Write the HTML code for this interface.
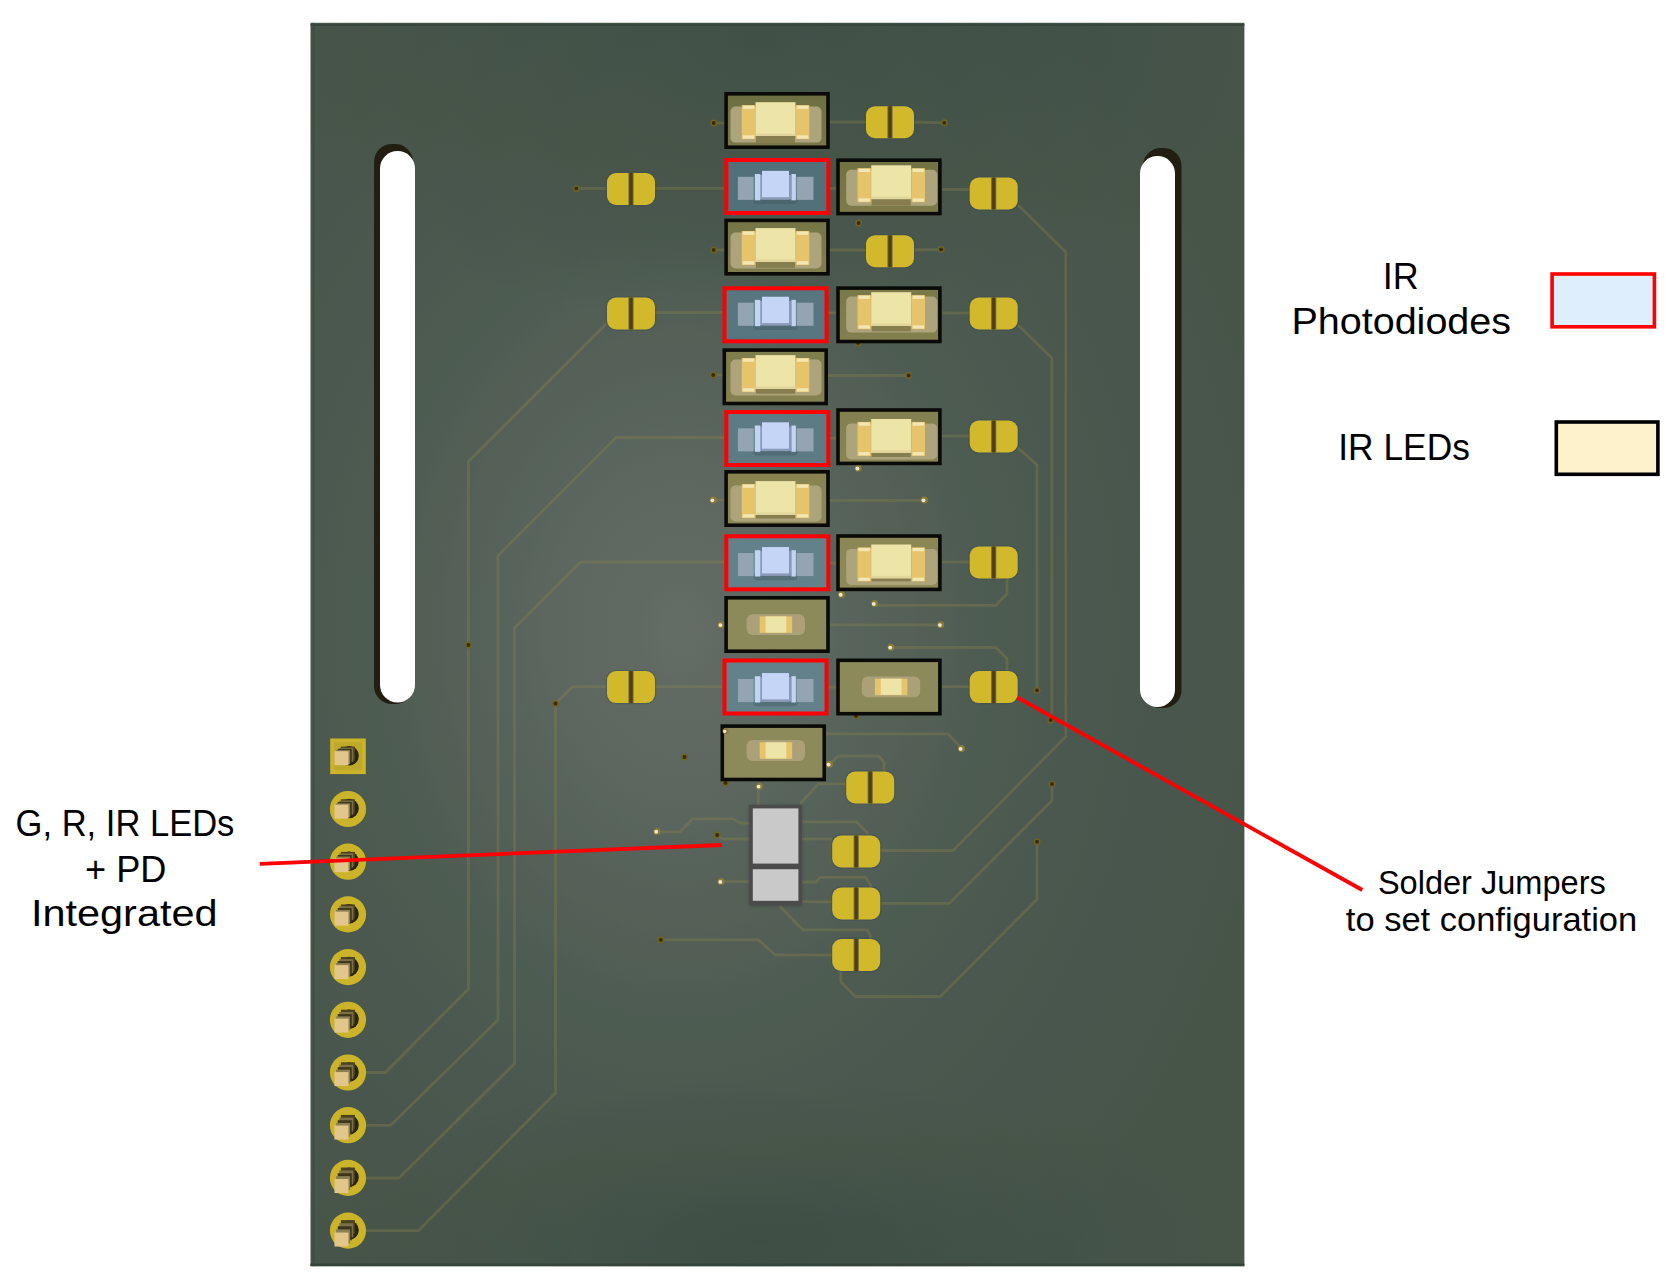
<!DOCTYPE html>
<html><head><meta charset="utf-8"><title>PCB</title>
<style>html,body{margin:0;padding:0;background:#fff;width:1680px;height:1286px;overflow:hidden;font-family:"Liberation Sans",sans-serif}</style>
</head><body>
<svg width="1680" height="1286" viewBox="0 0 1680 1286" style="position:absolute;left:0;top:0">
<defs>
<radialGradient id="board" gradientUnits="userSpaceOnUse" cx="680" cy="630" r="620" gradientTransform="translate(680 630) scale(1 1.28) translate(-680 -630)">
<stop offset="0" stop-color="#646d66"/>
<stop offset="0.2" stop-color="#5c675f"/>
<stop offset="0.5" stop-color="#4e5b51"/>
<stop offset="1" stop-color="#46544a"/>
</radialGradient>
<radialGradient id="topdark" gradientUnits="userSpaceOnUse" cx="760" cy="40" r="520" gradientTransform="translate(760 40) scale(1 0.55) translate(-760 -40)">
<stop offset="0" stop-color="#2f4236" stop-opacity="0.32"/>
<stop offset="0.5" stop-color="#2f4236" stop-opacity="0.2"/>
<stop offset="1" stop-color="#2f4236" stop-opacity="0"/>
</radialGradient>
<radialGradient id="botdark" gradientUnits="userSpaceOnUse" cx="760" cy="1240" r="460" gradientTransform="translate(760 1240) scale(1 0.35) translate(-760 -1240)">
<stop offset="0" stop-color="#2f4236" stop-opacity="0.4"/>
<stop offset="1" stop-color="#2f4236" stop-opacity="0"/>
</radialGradient>
<linearGradient id="olive" x1="0" y1="0" x2="0" y2="1">
<stop offset="0" stop-color="#6c6f3f"/><stop offset="1" stop-color="#7b7848"/>
</linearGradient>
<filter id="blur2" x="-20%" y="-20%" width="140%" height="140%"><feGaussianBlur stdDeviation="1.5"/></filter>
<filter id="edgeblur" x="-2%" y="-2%" width="104%" height="104%"><feGaussianBlur stdDeviation="0.7"/></filter>
</defs>
<rect width="1680" height="1286" fill="#ffffff"/>
<g filter="url(#edgeblur)">
<rect x="310.5" y="22.8" width="933.9" height="1243.4" fill="url(#board)"/>
<rect x="310.5" y="22.8" width="933.9" height="320" fill="url(#topdark)"/>
<rect x="310.5" y="1060" width="933.9" height="206.2" fill="url(#botdark)"/>
<rect x="310.5" y="24" width="933.9" height="2" fill="#34443a" opacity="0.8"/>
<rect x="310.5" y="1263.5" width="933.9" height="2.7" fill="#36443a"/>
<rect x="312.6" y="22.8" width="1.8" height="1243.4" fill="#3c4a40" opacity="0.7"/>
</g>
<rect x="374" y="144" width="39" height="560" rx="18" fill="#221e12"/>
<rect x="380" y="151" width="35" height="551.5" rx="17.5" fill="#ffffff"/>
<rect x="1143" y="148" width="38.5" height="560" rx="18" fill="#221e12"/>
<rect x="1140" y="156" width="35" height="551" rx="17.5" fill="#ffffff"/>
<g fill="none" stroke="#8e8549" stroke-opacity="0.33" stroke-width="2.8" stroke-linejoin="round"><path d="M606.5,323.4 L468.4,461.5 L468.4,988.9 L385.4,1072.5 L366,1072.5"/><path d="M724,437.5 L616.2,437.5 L498,555.7 L498,1020 L390.7,1125.3 L366,1125.3"/><path d="M724,562 L580.4,562 L514.5,628 L514.5,1063.5 L399,1178 L366,1178"/><path d="M606.5,686.6 L572.6,686.6 L555.5,703.5 L555.5,1093 L418.6,1230.6 L366,1230.6"/><path d="M576.3,188.4 L606.5,188.4"/><path d="M654.7,188.4 L724,188.4"/><path d="M654.7,312.5 L724,312.5"/><path d="M654.7,686.6 L722,686.6"/><path d="M713.5,123 L725,123"/><path d="M713.5,250 L725,250"/><path d="M713.5,375 L725,375"/><path d="M713.5,500 L725,500"/><path d="M829,122 L866,122"/><path d="M914,122 L944,122.8"/><path d="M829,250 L866,250"/><path d="M914,250 L941,249.3"/><path d="M828,375.5 L908.7,375.5"/><path d="M829,500.4 L924.3,500.4"/><path d="M829,624.8 L940.7,624.8"/><path d="M942,189.5 L970,189.5"/><path d="M942,313 L970,313"/><path d="M942,436 L970,436"/><path d="M942,562 L970,562"/><path d="M942,686.6 L970,686.6"/><path d="M828,188.4 L837,188.4"/><path d="M828,313 L837,313"/><path d="M828,438.3 L837,438.3"/><path d="M828,563.2 L837,563.2"/><path d="M828,687 L837,687"/><path d="M1018,205 L1065.8,252 L1065.8,736.5 L953.2,850.5 L880,850.5"/><path d="M1018,325 L1051.9,358 L1051.9,720"/><path d="M1018,448 L1036.9,464.6 L1036.9,690"/><path d="M1007,578 L1007,594 L995.8,605.3 L875,605.3"/><path d="M891,647.5 L995.8,647.5 L1007,658.8 L1007,671"/><path d="M1052,784 L1052,800.6 L949.3,903.3 L880,903.3"/><path d="M1037,841.7 L1037,899.5 L940.4,996.5 L855.2,996.5 L840.8,981.7 L840.8,969"/><path d="M826,733.9 L948,733.9 L962,748.6"/><path d="M657.5,831.9 L679.8,831.9 L692.9,818.8 L733.5,818.8 L740,823.2 L750,823.2"/><path d="M717.2,835 L722,839 L750,839"/><path d="M721.1,881.6 L750,881.6"/><path d="M801.6,821.9 L856.6,821.9 L867,832.4 L867,836"/><path d="M801.6,839 L832,839"/><path d="M801.6,882 L816,882 L820,877.4 L865.7,877.4 L870.4,884.8 L870.4,888"/><path d="M801.6,901.8 L832,901.8"/><path d="M779.3,905.7 L802.9,929.8 L867,929.8 L870.4,935.8 L870.4,939"/><path d="M660.9,939.8 L758.3,939.8 L775.4,955 L832,955"/><path d="M846,783.9 L818.6,783.9 L800.2,803.6"/><path d="M758.3,786.5 L758.3,805"/><path d="M829.6,765 L838,756 L879,756 L884,762.7 L884,771"/></g>
<circle cx="725.5" cy="782.9" r="3.5" fill="#6f6224"/><circle cx="725.5" cy="782.9" r="1.9250000000000003" fill="#362d0c"/><circle cx="824.3" cy="188.4" r="3.5" fill="#6f6224"/><circle cx="824.3" cy="188.4" r="1.9250000000000003" fill="#362d0c"/><circle cx="824.3" cy="313" r="3.5" fill="#6f6224"/><circle cx="824.3" cy="313" r="1.9250000000000003" fill="#362d0c"/><circle cx="713.7" cy="123" r="3.5" fill="#6f6224"/><circle cx="713.7" cy="123" r="1.9250000000000003" fill="#362d0c"/><circle cx="944.3" cy="122.8" r="3.5" fill="#6f6224"/><circle cx="944.3" cy="122.8" r="1.9250000000000003" fill="#362d0c"/><circle cx="576.3" cy="188.4" r="3.5" fill="#6f6224"/><circle cx="576.3" cy="188.4" r="1.9250000000000003" fill="#362d0c"/><circle cx="858.6" cy="223" r="3.5" fill="#6f6224"/><circle cx="858.6" cy="223" r="1.9250000000000003" fill="#362d0c"/><circle cx="713.7" cy="250" r="3.5" fill="#6f6224"/><circle cx="713.7" cy="250" r="1.9250000000000003" fill="#362d0c"/><circle cx="941.1" cy="249.3" r="3.5" fill="#6f6224"/><circle cx="941.1" cy="249.3" r="1.9250000000000003" fill="#362d0c"/><circle cx="713.2" cy="375" r="3.5" fill="#6f6224"/><circle cx="713.2" cy="375" r="1.9250000000000003" fill="#362d0c"/><circle cx="908.7" cy="375.5" r="3.5" fill="#6f6224"/><circle cx="908.7" cy="375.5" r="1.9250000000000003" fill="#362d0c"/><circle cx="858" cy="342.9" r="3.5" fill="#6f6224"/><circle cx="858" cy="342.9" r="1.9250000000000003" fill="#362d0c"/><circle cx="468.4" cy="645" r="3.5" fill="#6f6224"/><circle cx="468.4" cy="645" r="1.9250000000000003" fill="#362d0c"/><circle cx="555.5" cy="703.5" r="3.5" fill="#6f6224"/><circle cx="555.5" cy="703.5" r="1.9250000000000003" fill="#362d0c"/><circle cx="684.5" cy="757" r="3.5" fill="#6f6224"/><circle cx="684.5" cy="757" r="1.9250000000000003" fill="#362d0c"/><circle cx="717.2" cy="835" r="3.5" fill="#6f6224"/><circle cx="717.2" cy="835" r="1.9250000000000003" fill="#362d0c"/><circle cx="1037" cy="690.3" r="3.5" fill="#6f6224"/><circle cx="1037" cy="690.3" r="1.9250000000000003" fill="#362d0c"/><circle cx="1050.7" cy="720" r="3.5" fill="#6f6224"/><circle cx="1050.7" cy="720" r="1.9250000000000003" fill="#362d0c"/><circle cx="1052" cy="784" r="3.5" fill="#6f6224"/><circle cx="1052" cy="784" r="1.9250000000000003" fill="#362d0c"/><circle cx="1037" cy="841.7" r="3.5" fill="#6f6224"/><circle cx="1037" cy="841.7" r="1.9250000000000003" fill="#362d0c"/><circle cx="660.9" cy="939.8" r="3.5" fill="#6f6224"/><circle cx="660.9" cy="939.8" r="1.9250000000000003" fill="#362d0c"/><circle cx="856" cy="716" r="3.5" fill="#6f6224"/><circle cx="856" cy="716" r="1.9250000000000003" fill="#362d0c"/><circle cx="657" cy="831.4" r="3.5" fill="#8a7b35"/><circle cx="656.2" cy="831.6999999999999" r="1.9250000000000003" fill="#ece8d8"/><circle cx="713.2" cy="500" r="3.5" fill="#8a7b35"/><circle cx="712.4000000000001" cy="500.3" r="1.9250000000000003" fill="#ece8d8"/><circle cx="924.3" cy="500" r="3.5" fill="#8a7b35"/><circle cx="923.5" cy="500.3" r="1.9250000000000003" fill="#ece8d8"/><circle cx="858.2" cy="468.2" r="3.5" fill="#8a7b35"/><circle cx="857.4000000000001" cy="468.5" r="1.9250000000000003" fill="#ece8d8"/><circle cx="841.5" cy="594.4" r="3.5" fill="#8a7b35"/><circle cx="840.7" cy="594.6999999999999" r="1.9250000000000003" fill="#ece8d8"/><circle cx="874.6" cy="603.6" r="3.5" fill="#8a7b35"/><circle cx="873.8000000000001" cy="603.9" r="1.9250000000000003" fill="#ece8d8"/><circle cx="721.2" cy="624.8" r="3.5" fill="#8a7b35"/><circle cx="720.4000000000001" cy="625.0999999999999" r="1.9250000000000003" fill="#ece8d8"/><circle cx="940.7" cy="624.8" r="3.5" fill="#8a7b35"/><circle cx="939.9000000000001" cy="625.0999999999999" r="1.9250000000000003" fill="#ece8d8"/><circle cx="891" cy="647.3" r="3.5" fill="#8a7b35"/><circle cx="890.2" cy="647.5999999999999" r="1.9250000000000003" fill="#ece8d8"/><circle cx="824.3" cy="438.3" r="3.5" fill="#8a7b35"/><circle cx="823.5" cy="438.6" r="1.9250000000000003" fill="#ece8d8"/><circle cx="824.3" cy="563.2" r="3.5" fill="#8a7b35"/><circle cx="823.5" cy="563.5" r="1.9250000000000003" fill="#ece8d8"/><circle cx="824.3" cy="687" r="3.5" fill="#8a7b35"/><circle cx="823.5" cy="687.3" r="1.9250000000000003" fill="#ece8d8"/><circle cx="961.4" cy="748.6" r="3.5" fill="#8a7b35"/><circle cx="960.6" cy="748.9" r="1.9250000000000003" fill="#ece8d8"/><circle cx="829.4" cy="764.3" r="3.5" fill="#8a7b35"/><circle cx="828.6" cy="764.5999999999999" r="1.9250000000000003" fill="#ece8d8"/><circle cx="759.4" cy="786.3" r="3.5" fill="#8a7b35"/><circle cx="758.6" cy="786.5999999999999" r="1.9250000000000003" fill="#ece8d8"/><circle cx="721.1" cy="881.6" r="3.5" fill="#8a7b35"/><circle cx="720.3000000000001" cy="881.9" r="1.9250000000000003" fill="#ece8d8"/>
<rect x="864.8" y="105.0" width="50.4" height="34.4" rx="10" fill="#3c4e56" opacity="0.45"/><rect x="866.0" y="106.2" width="48" height="32" rx="9" fill="#d1b92b"/><rect x="887.4" y="106.2" width="5.2" height="32" fill="#7a6a28"/><rect x="888.4" y="106.2" width="3.2" height="32" fill="#4a3f1e"/><rect x="605.8" y="171.8" width="50.4" height="34.4" rx="10" fill="#3c4e56" opacity="0.45"/><rect x="607.0" y="173.0" width="48" height="32" rx="9" fill="#d1b92b"/><rect x="628.4" y="173.0" width="5.2" height="32" fill="#7a6a28"/><rect x="629.4" y="173.0" width="3.2" height="32" fill="#4a3f1e"/><rect x="968.5" y="176.3" width="50.4" height="34.4" rx="10" fill="#3c4e56" opacity="0.45"/><rect x="969.7" y="177.5" width="48" height="32" rx="9" fill="#d1b92b"/><rect x="991.1" y="177.5" width="5.2" height="32" fill="#7a6a28"/><rect x="992.1" y="177.5" width="3.2" height="32" fill="#4a3f1e"/><rect x="864.8" y="234.0" width="50.4" height="34.4" rx="10" fill="#3c4e56" opacity="0.45"/><rect x="866.0" y="235.2" width="48" height="32" rx="9" fill="#d1b92b"/><rect x="887.4" y="235.2" width="5.2" height="32" fill="#7a6a28"/><rect x="888.4" y="235.2" width="3.2" height="32" fill="#4a3f1e"/><rect x="605.8" y="296.3" width="50.4" height="34.4" rx="10" fill="#3c4e56" opacity="0.45"/><rect x="607.0" y="297.5" width="48" height="32" rx="9" fill="#d1b92b"/><rect x="628.4" y="297.5" width="5.2" height="32" fill="#7a6a28"/><rect x="629.4" y="297.5" width="3.2" height="32" fill="#4a3f1e"/><rect x="968.5" y="296.3" width="50.4" height="34.4" rx="10" fill="#3c4e56" opacity="0.45"/><rect x="969.7" y="297.5" width="48" height="32" rx="9" fill="#d1b92b"/><rect x="991.1" y="297.5" width="5.2" height="32" fill="#7a6a28"/><rect x="992.1" y="297.5" width="3.2" height="32" fill="#4a3f1e"/><rect x="968.5" y="419.3" width="50.4" height="34.4" rx="10" fill="#3c4e56" opacity="0.45"/><rect x="969.7" y="420.5" width="48" height="32" rx="9" fill="#d1b92b"/><rect x="991.1" y="420.5" width="5.2" height="32" fill="#7a6a28"/><rect x="992.1" y="420.5" width="3.2" height="32" fill="#4a3f1e"/><rect x="968.5" y="545.3" width="50.4" height="34.4" rx="10" fill="#3c4e56" opacity="0.45"/><rect x="969.7" y="546.5" width="48" height="32" rx="9" fill="#d1b92b"/><rect x="991.1" y="546.5" width="5.2" height="32" fill="#7a6a28"/><rect x="992.1" y="546.5" width="3.2" height="32" fill="#4a3f1e"/><rect x="605.8" y="669.9" width="50.4" height="34.4" rx="10" fill="#3c4e56" opacity="0.45"/><rect x="607.0" y="671.1" width="48" height="32" rx="9" fill="#d1b92b"/><rect x="628.4" y="671.1" width="5.2" height="32" fill="#7a6a28"/><rect x="629.4" y="671.1" width="3.2" height="32" fill="#4a3f1e"/><rect x="968.5" y="669.9" width="50.4" height="34.4" rx="10" fill="#3c4e56" opacity="0.45"/><rect x="969.7" y="671.1" width="48" height="32" rx="9" fill="#d1b92b"/><rect x="991.1" y="671.1" width="5.2" height="32" fill="#7a6a28"/><rect x="992.1" y="671.1" width="3.2" height="32" fill="#4a3f1e"/><rect x="845.0" y="770.1999999999999" width="50.4" height="34.4" rx="10" fill="#3c4e56" opacity="0.45"/><rect x="846.2" y="771.4" width="48" height="32" rx="9" fill="#d1b92b"/><rect x="867.6" y="771.4" width="5.2" height="32" fill="#7a6a28"/><rect x="868.6" y="771.4" width="3.2" height="32" fill="#4a3f1e"/><rect x="831.0" y="834.3" width="50.4" height="34.4" rx="10" fill="#3c4e56" opacity="0.45"/><rect x="832.2" y="835.5" width="48" height="32" rx="9" fill="#d1b92b"/><rect x="853.6" y="835.5" width="5.2" height="32" fill="#7a6a28"/><rect x="854.6" y="835.5" width="3.2" height="32" fill="#4a3f1e"/><rect x="831.0" y="886.3" width="50.4" height="34.4" rx="10" fill="#3c4e56" opacity="0.45"/><rect x="832.2" y="887.5" width="48" height="32" rx="9" fill="#d1b92b"/><rect x="853.6" y="887.5" width="5.2" height="32" fill="#7a6a28"/><rect x="854.6" y="887.5" width="3.2" height="32" fill="#4a3f1e"/><rect x="831.0" y="937.8" width="50.4" height="34.4" rx="10" fill="#3c4e56" opacity="0.45"/><rect x="832.2" y="939.0" width="48" height="32" rx="9" fill="#d1b92b"/><rect x="853.6" y="939.0" width="5.2" height="32" fill="#7a6a28"/><rect x="854.6" y="939.0" width="3.2" height="32" fill="#4a3f1e"/>
<rect x="330.2" y="738.5" width="35.6" height="35.6" fill="#ccb42a"/><rect x="334" y="742.3" width="28" height="28" fill="#bfa92a"/><circle cx="349" cy="755.8" r="9.8" fill="#2a2410"/><rect x="340.9" y="746.6719999999999" width="14" height="14" fill="#4a4220"/><rect x="339.3" y="747.804" width="14" height="14" fill="#7a7048"/><rect x="337.7" y="748.9359999999999" width="14" height="14" fill="#3c3518"/><rect x="336.1" y="750.068" width="14" height="14" fill="#8a8056"/><rect x="334.5" y="751.1999999999999" width="14" height="14" fill="#e2c68a"/><circle cx="348" cy="809.0" r="18.1" fill="#ccb42a"/><circle cx="349" cy="808.5" r="9.8" fill="#2a2410"/><rect x="340.9" y="799.2783999999999" width="14" height="14" fill="#4a4220"/><rect x="339.3" y="800.6288" width="14" height="14" fill="#7a7048"/><rect x="337.7" y="801.9792" width="14" height="14" fill="#3c3518"/><rect x="336.1" y="803.3295999999999" width="14" height="14" fill="#8a8056"/><rect x="334.5" y="804.68" width="14" height="14" fill="#e2c68a"/><circle cx="348" cy="861.6999999999999" r="18.1" fill="#ccb42a"/><circle cx="349" cy="861.1999999999999" r="9.8" fill="#2a2410"/><rect x="340.9" y="851.8847999999999" width="14" height="14" fill="#4a4220"/><rect x="339.3" y="853.4535999999999" width="14" height="14" fill="#7a7048"/><rect x="337.7" y="855.0224" width="14" height="14" fill="#3c3518"/><rect x="336.1" y="856.5912" width="14" height="14" fill="#8a8056"/><rect x="334.5" y="858.16" width="14" height="14" fill="#e2c68a"/><circle cx="348" cy="914.4" r="18.1" fill="#ccb42a"/><circle cx="349" cy="913.9" r="9.8" fill="#2a2410"/><rect x="340.9" y="904.4911999999999" width="14" height="14" fill="#4a4220"/><rect x="339.3" y="906.2784" width="14" height="14" fill="#7a7048"/><rect x="337.7" y="908.0656" width="14" height="14" fill="#3c3518"/><rect x="336.1" y="909.8528" width="14" height="14" fill="#8a8056"/><rect x="334.5" y="911.64" width="14" height="14" fill="#e2c68a"/><circle cx="348" cy="967.0999999999999" r="18.1" fill="#ccb42a"/><circle cx="349" cy="966.5999999999999" r="9.8" fill="#2a2410"/><rect x="340.9" y="957.0975999999999" width="14" height="14" fill="#4a4220"/><rect x="339.3" y="959.1031999999999" width="14" height="14" fill="#7a7048"/><rect x="337.7" y="961.1087999999999" width="14" height="14" fill="#3c3518"/><rect x="336.1" y="963.1143999999999" width="14" height="14" fill="#8a8056"/><rect x="334.5" y="965.1199999999999" width="14" height="14" fill="#e2c68a"/><circle cx="348" cy="1019.8" r="18.1" fill="#ccb42a"/><circle cx="349" cy="1019.3" r="9.8" fill="#2a2410"/><rect x="340.9" y="1009.704" width="14" height="14" fill="#4a4220"/><rect x="339.3" y="1011.9279999999999" width="14" height="14" fill="#7a7048"/><rect x="337.7" y="1014.1519999999999" width="14" height="14" fill="#3c3518"/><rect x="336.1" y="1016.3759999999999" width="14" height="14" fill="#8a8056"/><rect x="334.5" y="1018.5999999999999" width="14" height="14" fill="#e2c68a"/><circle cx="348" cy="1072.5" r="18.1" fill="#ccb42a"/><circle cx="349" cy="1072.0" r="9.8" fill="#2a2410"/><rect x="340.9" y="1062.3103999999998" width="14" height="14" fill="#4a4220"/><rect x="339.3" y="1064.7528" width="14" height="14" fill="#7a7048"/><rect x="337.7" y="1067.1951999999999" width="14" height="14" fill="#3c3518"/><rect x="336.1" y="1069.6376" width="14" height="14" fill="#8a8056"/><rect x="334.5" y="1072.08" width="14" height="14" fill="#e2c68a"/><circle cx="348" cy="1125.2" r="18.1" fill="#ccb42a"/><circle cx="349" cy="1124.7" r="9.8" fill="#2a2410"/><rect x="340.9" y="1114.9168" width="14" height="14" fill="#4a4220"/><rect x="339.3" y="1117.5775999999998" width="14" height="14" fill="#7a7048"/><rect x="337.7" y="1120.2384" width="14" height="14" fill="#3c3518"/><rect x="336.1" y="1122.8991999999998" width="14" height="14" fill="#8a8056"/><rect x="334.5" y="1125.56" width="14" height="14" fill="#e2c68a"/><circle cx="348" cy="1177.9" r="18.1" fill="#ccb42a"/><circle cx="349" cy="1177.4" r="9.8" fill="#2a2410"/><rect x="340.9" y="1167.5232" width="14" height="14" fill="#4a4220"/><rect x="339.3" y="1170.4024000000002" width="14" height="14" fill="#7a7048"/><rect x="337.7" y="1173.2816000000003" width="14" height="14" fill="#3c3518"/><rect x="336.1" y="1176.1608" width="14" height="14" fill="#8a8056"/><rect x="334.5" y="1179.0400000000002" width="14" height="14" fill="#e2c68a"/><circle cx="348" cy="1230.6" r="18.1" fill="#ccb42a"/><circle cx="349" cy="1230.1" r="9.8" fill="#2a2410"/><rect x="340.9" y="1220.1296" width="14" height="14" fill="#4a4220"/><rect x="339.3" y="1223.2272" width="14" height="14" fill="#7a7048"/><rect x="337.7" y="1226.3247999999999" width="14" height="14" fill="#3c3518"/><rect x="336.1" y="1229.4224" width="14" height="14" fill="#8a8056"/><rect x="334.5" y="1232.52" width="14" height="14" fill="#e2c68a"/>
<linearGradient id="g724_92" x1="0" y1="0" x2="0" y2="1"><stop offset="0" stop-color="#6c6f3f"/><stop offset="1" stop-color="#7a7848"/></linearGradient><rect x="724.3" y="92" width="105.5" height="57" fill="#0a0a08"/><rect x="727.9" y="95.6" width="98.3" height="49.8" fill="url(#g724_92)"/><rect x="730.5" y="106.6" width="91" height="36" rx="5" fill="#aea47c"/><rect x="756.0" y="135.1" width="39" height="7.999095022624434" fill="#877e4f"/><rect x="741.8" y="105.1" width="13.4" height="34" fill="#e6c46c"/><rect x="742.8" y="105.6" width="11.4" height="3.3" fill="#f2e6b4"/><rect x="742.8" y="135.29999999999998" width="11.4" height="3.3" fill="#f2e6b4"/><rect x="795.9" y="105.1" width="13.4" height="34" fill="#e6c46c"/><rect x="796.9" y="105.6" width="11.4" height="3.3" fill="#f2e6b4"/><rect x="796.9" y="135.29999999999998" width="11.4" height="3.3" fill="#f2e6b4"/><rect x="755.5" y="102.19999999999999" width="40" height="33.8" fill="#ede4a8"/><rect x="755.5" y="133.6" width="40" height="2.4" fill="#e0d59b"/><rect x="724.3" y="158" width="106" height="57" fill="#ff0000"/><rect x="728.3" y="162" width="98" height="49" fill="#52707a"/><rect x="753.5" y="197" width="44" height="7" rx="3" fill="#4a656e"/><rect x="737.9" y="176.8" width="15.8" height="23.1" fill="#93a4b2"/><rect x="796.6" y="176.8" width="16.9" height="23.1" fill="#93a4b2"/><rect x="760.0" y="175" width="31" height="24.5" fill="#8a9ab4"/><rect x="754.8" y="174" width="5.5" height="26.3" fill="#c3d3f2"/><rect x="791.4" y="174" width="4.5" height="26.3" fill="#c3d3f2"/><rect x="762.0" y="170.9" width="27" height="28.7" fill="#8b9ab8"/><rect x="762.0" y="170.9" width="27" height="26.3" fill="#c5d5f5"/><linearGradient id="g836_158" x1="0" y1="0" x2="0" y2="1"><stop offset="0" stop-color="#707242"/><stop offset="1" stop-color="#7d7b4a"/></linearGradient><rect x="836.2" y="158.4" width="105.5" height="57" fill="#0a0a08"/><rect x="839.8000000000001" y="162.0" width="98.3" height="49.8" fill="url(#g836_158)"/><rect x="846.2" y="169.7" width="91" height="36" rx="5" fill="#aea47c"/><rect x="871.7" y="198.2" width="39" height="7.428054298642534" fill="#877e4f"/><rect x="857.5" y="168.2" width="13.4" height="34" fill="#e6c46c"/><rect x="858.5" y="168.7" width="11.4" height="3.3" fill="#f2e6b4"/><rect x="858.5" y="198.39999999999998" width="11.4" height="3.3" fill="#f2e6b4"/><rect x="911.6" y="168.2" width="13.4" height="34" fill="#e6c46c"/><rect x="912.6" y="168.7" width="11.4" height="3.3" fill="#f2e6b4"/><rect x="912.6" y="198.39999999999998" width="11.4" height="3.3" fill="#f2e6b4"/><rect x="871.2" y="165.29999999999998" width="40" height="33.8" fill="#ede4a8"/><rect x="871.2" y="196.7" width="40" height="2.4" fill="#e0d59b"/><linearGradient id="g724_218" x1="0" y1="0" x2="0" y2="1"><stop offset="0" stop-color="#757645"/><stop offset="1" stop-color="#807d4d"/></linearGradient><rect x="724.3" y="218.6" width="105.5" height="57" fill="#0a0a08"/><rect x="727.9" y="222.2" width="98.3" height="49.8" fill="url(#g724_218)"/><rect x="730.5" y="232.5" width="91" height="36" rx="5" fill="#aea47c"/><rect x="756.0" y="261" width="39" height="6.859728506787331" fill="#877e4f"/><rect x="741.8" y="231" width="13.4" height="34" fill="#e6c46c"/><rect x="742.8" y="231.5" width="11.4" height="3.3" fill="#f2e6b4"/><rect x="742.8" y="261.2" width="11.4" height="3.3" fill="#f2e6b4"/><rect x="795.9" y="231" width="13.4" height="34" fill="#e6c46c"/><rect x="796.9" y="231.5" width="11.4" height="3.3" fill="#f2e6b4"/><rect x="796.9" y="261.2" width="11.4" height="3.3" fill="#f2e6b4"/><rect x="755.5" y="228.1" width="40" height="33.8" fill="#ede4a8"/><rect x="755.5" y="259.5" width="40" height="2.4" fill="#e0d59b"/><rect x="722.5" y="286.3" width="106" height="57" fill="#ff0000"/><rect x="726.5" y="290.3" width="98" height="49" fill="#587680"/><rect x="753.5" y="322.9" width="44" height="7" rx="3" fill="#4e6972"/><rect x="737.9" y="302.7" width="15.8" height="23.1" fill="#93a4b2"/><rect x="796.6" y="302.7" width="16.9" height="23.1" fill="#93a4b2"/><rect x="760.0" y="300.9" width="31" height="24.5" fill="#8a9ab4"/><rect x="754.8" y="299.9" width="5.5" height="26.3" fill="#c3d3f2"/><rect x="791.4" y="299.9" width="4.5" height="26.3" fill="#c3d3f2"/><rect x="762.0" y="296.79999999999995" width="27" height="28.7" fill="#8b9ab8"/><rect x="762.0" y="296.79999999999995" width="27" height="26.3" fill="#c5d5f5"/><linearGradient id="g836_286" x1="0" y1="0" x2="0" y2="1"><stop offset="0" stop-color="#797948"/><stop offset="1" stop-color="#83804f"/></linearGradient><rect x="836.2" y="286.3" width="105.5" height="57" fill="#0a0a08"/><rect x="839.8000000000001" y="289.90000000000003" width="98.3" height="49.8" fill="url(#g836_286)"/><rect x="846.2" y="296.6" width="91" height="36" rx="5" fill="#aea47c"/><rect x="871.7" y="325.1" width="39" height="6.279638009049774" fill="#877e4f"/><rect x="857.5" y="295.1" width="13.4" height="34" fill="#e6c46c"/><rect x="858.5" y="295.6" width="11.4" height="3.3" fill="#f2e6b4"/><rect x="858.5" y="325.3" width="11.4" height="3.3" fill="#f2e6b4"/><rect x="911.6" y="295.1" width="13.4" height="34" fill="#e6c46c"/><rect x="912.6" y="295.6" width="11.4" height="3.3" fill="#f2e6b4"/><rect x="912.6" y="325.3" width="11.4" height="3.3" fill="#f2e6b4"/><rect x="871.2" y="292.20000000000005" width="40" height="33.8" fill="#ede4a8"/><rect x="871.2" y="323.6" width="40" height="2.4" fill="#e0d59b"/><linearGradient id="g722_348" x1="0" y1="0" x2="0" y2="1"><stop offset="0" stop-color="#7e7d4c"/><stop offset="1" stop-color="#858251"/></linearGradient><rect x="722.5" y="348.3" width="105.5" height="57" fill="#0a0a08"/><rect x="726.1" y="351.90000000000003" width="98.3" height="49.8" fill="url(#g722_348)"/><rect x="730.5" y="359.5" width="91" height="36" rx="5" fill="#aea47c"/><rect x="756.0" y="388" width="39" height="5.710407239819005" fill="#877e4f"/><rect x="741.8" y="358" width="13.4" height="34" fill="#e6c46c"/><rect x="742.8" y="358.5" width="11.4" height="3.3" fill="#f2e6b4"/><rect x="742.8" y="388.2" width="11.4" height="3.3" fill="#f2e6b4"/><rect x="795.9" y="358" width="13.4" height="34" fill="#e6c46c"/><rect x="796.9" y="358.5" width="11.4" height="3.3" fill="#f2e6b4"/><rect x="796.9" y="388.2" width="11.4" height="3.3" fill="#f2e6b4"/><rect x="755.5" y="355.1" width="40" height="33.8" fill="#ede4a8"/><rect x="755.5" y="386.5" width="40" height="2.4" fill="#e0d59b"/><rect x="724.3" y="410" width="106" height="57" fill="#ff0000"/><rect x="728.3" y="414" width="98" height="49" fill="#5d7b85"/><rect x="753.5" y="448.5" width="44" height="7" rx="3" fill="#516c75"/><rect x="737.9" y="428.3" width="15.8" height="23.1" fill="#93a4b2"/><rect x="796.6" y="428.3" width="16.9" height="23.1" fill="#93a4b2"/><rect x="760.0" y="426.5" width="31" height="24.5" fill="#8a9ab4"/><rect x="754.8" y="425.5" width="5.5" height="26.3" fill="#c3d3f2"/><rect x="791.4" y="425.5" width="4.5" height="26.3" fill="#c3d3f2"/><rect x="762.0" y="422.4" width="27" height="28.7" fill="#8b9ab8"/><rect x="762.0" y="422.4" width="27" height="26.3" fill="#c5d5f5"/><linearGradient id="g836_408" x1="0" y1="0" x2="0" y2="1"><stop offset="0" stop-color="#82804f"/><stop offset="1" stop-color="#888553"/></linearGradient><rect x="836.2" y="408.2" width="105.5" height="57" fill="#0a0a08"/><rect x="839.8000000000001" y="411.8" width="98.3" height="49.8" fill="url(#g836_408)"/><rect x="846.2" y="423.4" width="91" height="36" rx="5" fill="#aea47c"/><rect x="871.7" y="451.9" width="39" height="5.13212669683258" fill="#877e4f"/><rect x="857.5" y="421.9" width="13.4" height="34" fill="#e6c46c"/><rect x="858.5" y="422.4" width="11.4" height="3.3" fill="#f2e6b4"/><rect x="858.5" y="452.09999999999997" width="11.4" height="3.3" fill="#f2e6b4"/><rect x="911.6" y="421.9" width="13.4" height="34" fill="#e6c46c"/><rect x="912.6" y="422.4" width="11.4" height="3.3" fill="#f2e6b4"/><rect x="912.6" y="452.09999999999997" width="11.4" height="3.3" fill="#f2e6b4"/><rect x="871.2" y="419.0" width="40" height="33.8" fill="#ede4a8"/><rect x="871.2" y="450.4" width="40" height="2.4" fill="#e0d59b"/><linearGradient id="g724_470" x1="0" y1="0" x2="0" y2="1"><stop offset="0" stop-color="#878452"/><stop offset="1" stop-color="#8b8756"/></linearGradient><rect x="724.3" y="470" width="105.5" height="57" fill="#0a0a08"/><rect x="727.9" y="473.6" width="98.3" height="49.8" fill="url(#g724_470)"/><rect x="730.5" y="485.5" width="91" height="36" rx="5" fill="#aea47c"/><rect x="756.0" y="514" width="39" height="4.570135746606335" fill="#877e4f"/><rect x="741.8" y="484" width="13.4" height="34" fill="#e6c46c"/><rect x="742.8" y="484.5" width="11.4" height="3.3" fill="#f2e6b4"/><rect x="742.8" y="514.2" width="11.4" height="3.3" fill="#f2e6b4"/><rect x="795.9" y="484" width="13.4" height="34" fill="#e6c46c"/><rect x="796.9" y="484.5" width="11.4" height="3.3" fill="#f2e6b4"/><rect x="796.9" y="514.2" width="11.4" height="3.3" fill="#f2e6b4"/><rect x="755.5" y="481.1" width="40" height="33.8" fill="#ede4a8"/><rect x="755.5" y="512.5" width="40" height="2.4" fill="#e0d59b"/><rect x="724.3" y="534.3" width="106" height="57" fill="#ff0000"/><rect x="728.3" y="538.3" width="98" height="49" fill="#63818b"/><rect x="753.5" y="573.2" width="44" height="7" rx="3" fill="#557079"/><rect x="737.9" y="553.0" width="15.8" height="23.1" fill="#93a4b2"/><rect x="796.6" y="553.0" width="16.9" height="23.1" fill="#93a4b2"/><rect x="760.0" y="551.2" width="31" height="24.5" fill="#8a9ab4"/><rect x="754.8" y="550.2" width="5.5" height="26.3" fill="#c3d3f2"/><rect x="791.4" y="550.2" width="4.5" height="26.3" fill="#c3d3f2"/><rect x="762.0" y="547.1" width="27" height="28.7" fill="#8b9ab8"/><rect x="762.0" y="547.1" width="27" height="26.3" fill="#c5d5f5"/><linearGradient id="g836_534" x1="0" y1="0" x2="0" y2="1"><stop offset="0" stop-color="#8b8755"/><stop offset="1" stop-color="#8e8a58"/></linearGradient><rect x="836.2" y="534.2" width="105.5" height="57" fill="#0a0a08"/><rect x="839.8000000000001" y="537.8000000000001" width="98.3" height="49.8" fill="url(#g836_534)"/><rect x="846.2" y="548.9" width="91" height="36" rx="5" fill="#aea47c"/><rect x="871.7" y="577.4" width="39" height="3.9963800904977376" fill="#877e4f"/><rect x="857.5" y="547.4" width="13.4" height="34" fill="#e6c46c"/><rect x="858.5" y="547.9" width="11.4" height="3.3" fill="#f2e6b4"/><rect x="858.5" y="577.6" width="11.4" height="3.3" fill="#f2e6b4"/><rect x="911.6" y="547.4" width="13.4" height="34" fill="#e6c46c"/><rect x="912.6" y="547.9" width="11.4" height="3.3" fill="#f2e6b4"/><rect x="912.6" y="577.6" width="11.4" height="3.3" fill="#f2e6b4"/><rect x="871.2" y="544.5" width="40" height="33.8" fill="#ede4a8"/><rect x="871.2" y="575.9" width="40" height="2.4" fill="#e0d59b"/><rect x="724.3" y="596" width="105.5" height="57" fill="#0a0a08"/><rect x="727.9" y="599.6" width="98.3" height="49.8" fill="#8c895a"/><rect x="746.6" y="614.2" width="58.4" height="20.8" rx="6" fill="#aba178"/><rect x="759.7" y="616.4" width="32.5" height="16.5" fill="#e6c46c"/><rect x="765.6" y="616.4" width="20.7" height="16.2" fill="#ede4a8"/><rect x="722.5" y="658.5" width="106" height="57" fill="#ff0000"/><rect x="726.5" y="662.5" width="98" height="49" fill="#63818b"/><rect x="753.5" y="699.2" width="44" height="7" rx="3" fill="#557079"/><rect x="737.9" y="679.0" width="15.8" height="23.1" fill="#93a4b2"/><rect x="796.6" y="679.0" width="16.9" height="23.1" fill="#93a4b2"/><rect x="760.0" y="677.2" width="31" height="24.5" fill="#8a9ab4"/><rect x="754.8" y="676.2" width="5.5" height="26.3" fill="#c3d3f2"/><rect x="791.4" y="676.2" width="4.5" height="26.3" fill="#c3d3f2"/><rect x="762.0" y="673.1" width="27" height="28.7" fill="#8b9ab8"/><rect x="762.0" y="673.1" width="27" height="26.3" fill="#c5d5f5"/><rect x="836.2" y="658.5" width="105.5" height="57" fill="#0a0a08"/><rect x="839.8000000000001" y="662.1" width="98.3" height="49.8" fill="#8c895a"/><rect x="861.8000000000001" y="676.5" width="58.4" height="20.8" rx="6" fill="#aba178"/><rect x="874.9000000000001" y="678.6999999999999" width="32.5" height="16.5" fill="#e6c46c"/><rect x="880.8000000000001" y="678.6999999999999" width="20.7" height="16.2" fill="#ede4a8"/><rect x="720.5" y="724.3" width="105.5" height="57" fill="#0a0a08"/><rect x="724.1" y="727.9" width="98.3" height="49.8" fill="#8c895a"/><rect x="746.6" y="740.1" width="58.4" height="20.8" rx="6" fill="#aba178"/><rect x="759.7" y="742.3" width="32.5" height="16.5" fill="#e6c46c"/><rect x="765.6" y="742.3" width="20.7" height="16.2" fill="#ede4a8"/>
<circle cx="725.5" cy="731" r="3" fill="#8a7b35"/><circle cx="724.7" cy="731.3" r="1.6500000000000001" fill="#ece8d8"/>
<rect x="749" y="805" width="53" height="101" fill="#2e322d" opacity="0.45" filter="url(#blur2)"/>
<rect x="749.4" y="805" width="52.2" height="100" fill="#4b4b4b"/>
<rect x="752.8" y="808.4" width="45.6" height="55.2" fill="#c9c9c9"/>
<rect x="752.8" y="869.2" width="45.6" height="31.6" fill="#c9c9c9"/>
<line x1="259.8" y1="863.8" x2="722" y2="845" stroke="#ff0000" stroke-width="3.8"/>
<line x1="1017.5" y1="697.5" x2="1362.3" y2="890" stroke="#ff0000" stroke-width="3.8"/>
<rect x="1552.1" y="274" width="102.3" height="52.8" fill="#dfeefc" stroke="#ff0000" stroke-width="3.6"/>
<rect x="1556.3" y="422" width="101.6" height="52.3" fill="#fdf2cc" stroke="#000000" stroke-width="3.6"/>
<g font-family="Liberation Sans, sans-serif" fill="#000000"><text x="1382.7" y="288.8" font-size="36" textLength="35.9" lengthAdjust="spacingAndGlyphs">IR</text><text x="1291.4" y="333.6" font-size="36" textLength="219.7" lengthAdjust="spacingAndGlyphs">Photodiodes</text><text x="1338.3" y="460.4" font-size="36" textLength="131.6" lengthAdjust="spacingAndGlyphs">IR LEDs</text><text x="15.600000000000001" y="835.7" font-size="36" textLength="218.8" lengthAdjust="spacingAndGlyphs">G, R, IR LEDs</text><text x="85" y="881.5" font-size="36" textLength="81.4" lengthAdjust="spacingAndGlyphs">+ PD</text><text x="31.0" y="925.9" font-size="36" textLength="186.5" lengthAdjust="spacingAndGlyphs">Integrated</text><text x="1377.9" y="894.3" font-size="33" textLength="227.9" lengthAdjust="spacingAndGlyphs">Solder Jumpers</text><text x="1345.8" y="931.4" font-size="33" textLength="291.4" lengthAdjust="spacingAndGlyphs">to set configuration</text></g>
</svg>
</body></html>
